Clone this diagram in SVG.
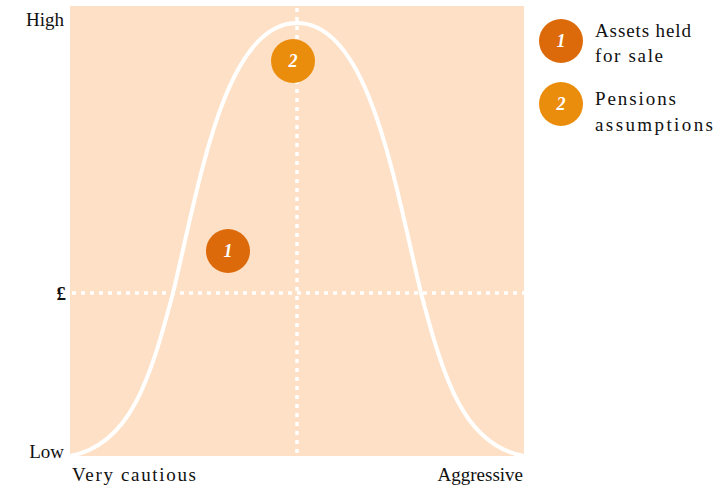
<svg xmlns="http://www.w3.org/2000/svg" width="716" height="487" viewBox="0 0 716 487">
<style>
.t{font-family:"Liberation Serif","DejaVu Serif",serif;font-size:19px;fill:#111}
.n{font-family:"Liberation Serif","DejaVu Serif",serif;font-size:18px;font-weight:bold;font-style:italic;fill:#fff;text-anchor:middle}
.dot{stroke:#fff;stroke-width:3.5;stroke-dasharray:4 5;fill:none}
.c1{fill:#dc6a0a}
.c2{fill:#eb8d0c}
</style>
<rect x="70" y="6" width="454" height="450" fill="#fde0c5"/>
<g id="connectors">
<line class="dot" x1="72" y1="293" x2="524" y2="293"/>
<line class="dot" x1="297" y1="8" x2="297" y2="456"/>
<path d="M70,456 C130,445 150,380 173,293 C200,180 225,23 297,23 C369,23 394,180 421,293 C444,380 464,445 524,456" fill="none" stroke="#fff" stroke-width="4"/>
</g>
<g id="axis-labels">
<text class="t" x="64" y="26" text-anchor="end">High</text>
<text class="t" x="64" y="458" text-anchor="end">Low</text>
<text class="t" x="66" y="300" text-anchor="end" font-weight="bold">£</text>
<text class="t" x="72" y="481" textLength="124" lengthAdjust="spacing">Very cautious</text>
<text class="t" x="523" y="481" text-anchor="end">Aggressive</text>
</g>
<g id="node-1"><circle class="c1" cx="228" cy="251" r="22"/><text class="n" x="228" y="257">1</text></g>
<g id="node-2"><circle class="c2" cx="293" cy="61" r="22"/><text class="n" x="293" y="67">2</text></g>
<g id="legend-1"><circle class="c1" cx="561" cy="41" r="22"/><text class="n" x="561" y="47">1</text>
<text class="t" x="595" y="37" textLength="96" lengthAdjust="spacing">Assets held</text><text class="t" x="595" y="62" textLength="68" lengthAdjust="spacing">for sale</text></g>
<g id="legend-2"><circle class="c2" cx="561" cy="104" r="22"/><text class="n" x="561" y="110">2</text>
<text class="t" x="595" y="105" textLength="81" lengthAdjust="spacing">Pensions</text><text class="t" x="595" y="131" textLength="118" lengthAdjust="spacing">assumptions</text></g>
</svg>
